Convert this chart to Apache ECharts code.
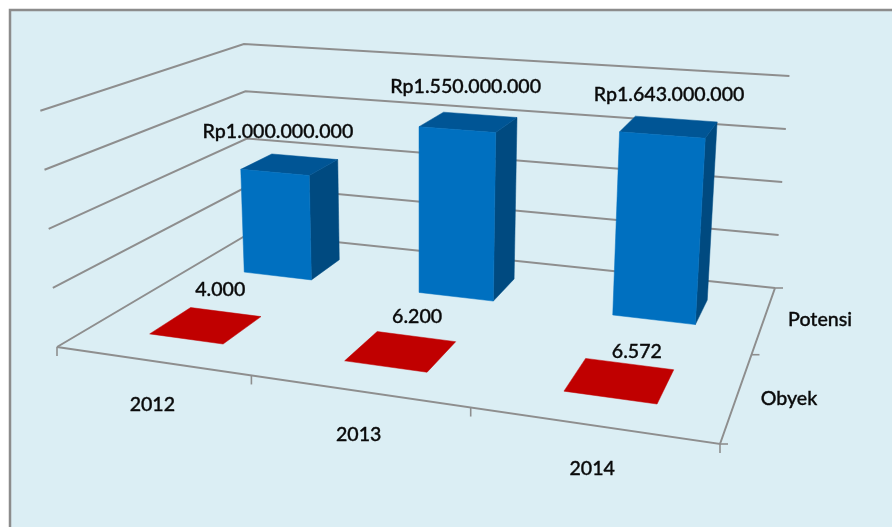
<!DOCTYPE html>
<html><head><meta charset="utf-8">
<style>html,body{margin:0;padding:0;background:#fff}#c{width:892px;height:527px}</style>
<script src="https://cdn.jsdelivr.net/npm/echarts@6/dist/echarts.min.js"></script>
</head><body><div id="c"></div>
<script>
// Data
const categories = ['2012', '2013', '2014'];
const seriesNames = ['Obyek', 'Potensi'];
const obyek = [4000, 6200, 6572];
const potensi = [1000000000, 1550000000, 1643000000];
const obyekLabels = ['4.000', '6.200', '6.572'];
const potensiLabels = ['Rp1.000.000.000', 'Rp1.550.000.000', 'Rp1.643.000.000'];
const valueTicks = [0, 500000000, 1000000000, 1500000000, 2000000000];

// Perspective box (layout only)
const W = 892, H = 527;
const floorCorners = [[57, 347], [720, 444], [775, 288], [250, 233]];
const vanish = [420, 5500];
const wallHeight = 236.3, heightG = -0.135, heightH = 0.25;
const potensiNudge = [[-12, -33], [-3, -35], [0, -32]];
const obyekNudge = [[14, -35], [16, -34], [17, -29]];
const LINE = '#8e8e8e', TXT = '#0a0a0a';
const FONT = 'Lato';

function homography(c) {
  const [A, B, C, D] = c;
  const dx1 = B[0] - C[0], dx2 = D[0] - C[0], sx = A[0] - B[0] + C[0] - D[0];
  const dy1 = B[1] - C[1], dy2 = D[1] - C[1], sy = A[1] - B[1] + C[1] - D[1];
  const den = dx1 * dy2 - dx2 * dy1;
  const g = (sx * dy2 - dx2 * sy) / den, h = (dx1 * sy - sx * dy1) / den;
  const a = B[0] * (1 + g) - A[0], b = D[0] * (1 + h) - A[0];
  const d = B[1] * (1 + g) - A[1], e = D[1] * (1 + h) - A[1];
  return (u, v) => {
    const q = 1 + g * u + h * v;
    return [(a * u + b * v + A[0]) / q, (d * u + e * v + A[1]) / q];
  };
}
const F = homography(floorCorners);
function P(u, v, w) {
  const p = F(u, v);
  const hgt = w * wallHeight / (1 + heightG * u + heightH * v);
  return [p[0] + (p[0] - vanish[0]) / (vanish[1] - p[1]) * hgt, p[1] - hgt];
}
// depth positions: Obyek row is the front half, Potensi the back half
const depthOf = i => (i + 0.5) / seriesNames.length;

function scaled(api) {
  const pt = api.coord([api.value(0), api.value(1)]);
  return { u: pt[0] / W, w: 1 - pt[1] / H };
}
function poly(points, fill) {
  return { type: 'polygon', shape: { points }, style: { fill, stroke: fill, lineWidth: 0.5 } };
}
function line(points, width) {
  return { type: 'polyline', shape: { points }, style: { stroke: LINE, lineWidth: width || 2, fill: null } };
}
function text(x, y, str) {
  return { type: 'text', x, y, style: { text: str, fill: TXT, stroke: TXT, lineWidth: 0.35, font: '500 19.6px ' + FONT, align: 'center', verticalAlign: 'middle' } };
}

const renderWall = (p, api) => {
  const w = scaled(api).w;
  return { type: 'group', children: [line([P(0, 0, w), P(0, 1, w), P(1, 1, w)])] };
};
const renderAxes = () => {
  const kids = [line([P(0, 0, 0), P(1, 0, 0), P(1, 1, 0)])];
  categories.concat(['']).forEach((_, i) => {
    const p = P(i / categories.length, 0, 0);
    kids.push(line([p, [p[0], p[1] + 9]], 1.6));
  });
  seriesNames.concat(['']).forEach((_, i) => {
    const p = P(1, i / seriesNames.length, 0);
    kids.push(line([p, [p[0] + 8, p[1]]], 1.6));
  });
  return { type: 'group', children: kids };
};
const renderBar = (halfU, shift) => (p, api) => {
  const { u: uc, w } = scaled(api);
  const u = uc + shift, v = depthOf(1), dv = 0.095;
  const u0 = u - halfU, u1 = u + halfU, v0 = v - dv, v1 = v + dv;
  const n = potensiNudge[p.dataIndex], c = P(u, v, w);
  return { type: 'group', children: [
    poly([P(u1, v0, 0), P(u1, v1, 0), P(u1, v1, w), P(u1, v0, w)], '#004A80'),
    poly([P(u0, v0, w), P(u1, v0, w), P(u1, v1, w), P(u0, v1, w)], '#005595'),
    poly([P(u0, v0, 0), P(u1, v0, 0), P(u1, v0, w), P(u0, v0, w)], '#0070C0'),
    text(c[0] + n[0], c[1] + n[1], potensiLabels[p.dataIndex])
  ] };
};
const renderFlat = (halfU, shift) => (p, api) => {
  const { u: uc, w } = scaled(api);
  const u = uc + shift, v = depthOf(0), dv = 0.1;
  const u0 = u - halfU, u1 = u + halfU, v0 = v - dv, v1 = v + dv;
  const n = obyekNudge[p.dataIndex], c = P(u, v, w);
  return { type: 'group', children: [
    poly([P(u0, v0, w), P(u1, v0, w), P(u1, v1, w), P(u0, v1, w)], '#C00000'),
    text(c[0] + n[0], c[1] + n[1], obyekLabels[p.dataIndex])
  ] };
};
const renderCategory = (p, api) => {
  const { u } = scaled(api);
  const c = P(u, 0, 0);
  return text(c[0] + 1, c[1] + 44, categories[p.dataIndex]);
};
const renderDepth = (p) => {
  const c = P(1, depthOf(p.dataIndex), 0);
  return text(c[0] + (p.dataIndex ? 56 : 52), c[1] + (p.dataIndex ? 1 : 3), seriesNames[p.dataIndex]);
};

const chart = echarts.init(document.getElementById('c'), null, { renderer: 'canvas' });
chart.setOption({
  animation: false,
  backgroundColor: '#fff',
  tooltip: { show: false },
  legend: { show: false },
  graphic: [{ type: 'rect', silent: true, z: -1, shape: { x: 10, y: 10, width: 900, height: 540 },
    style: { fill: '#DBEEF4', stroke: '#8c8c8c', lineWidth: 2.5 } }],
  grid: { left: 0, top: 0, width: W, height: H, containLabel: false },
  xAxis: { type: 'category', data: categories, show: false },
  yAxis: { type: 'value', min: valueTicks[0], max: valueTicks[valueTicks.length - 1], interval: valueTicks[1], show: false },
  series: [
    { type: 'custom', name: 'wall', silent: true, clip: false, encode: { x: 0, y: 1 }, renderItem: renderWall, data: valueTicks.map(t => [0, t]) },
    { type: 'custom', name: 'axes', silent: true, clip: false, encode: { x: 0, y: 1 }, renderItem: renderAxes, data: [[0, 0]] },
    { type: 'custom', name: seriesNames[0], silent: true, clip: false, encode: { x: 0, y: 1 }, renderItem: renderFlat(0.065, 0.0035), data: obyek.map((v, i) => [i, v]) },
    { type: 'custom', name: seriesNames[1], silent: true, clip: false, encode: { x: 0, y: 1 }, renderItem: renderBar(0.066, 0.002), data: potensi.map((v, i) => [i, v]) },
    { type: 'custom', name: 'categories', silent: true, clip: false, encode: { x: 0, y: 1 }, renderItem: renderCategory, data: categories.map((c, i) => [i, 0]) },
    { type: 'custom', name: 'depth', silent: true, clip: false, encode: { x: 0, y: 1 }, renderItem: renderDepth, data: seriesNames.map(() => [0, 0]) }
  ]
});
</script></body></html>
